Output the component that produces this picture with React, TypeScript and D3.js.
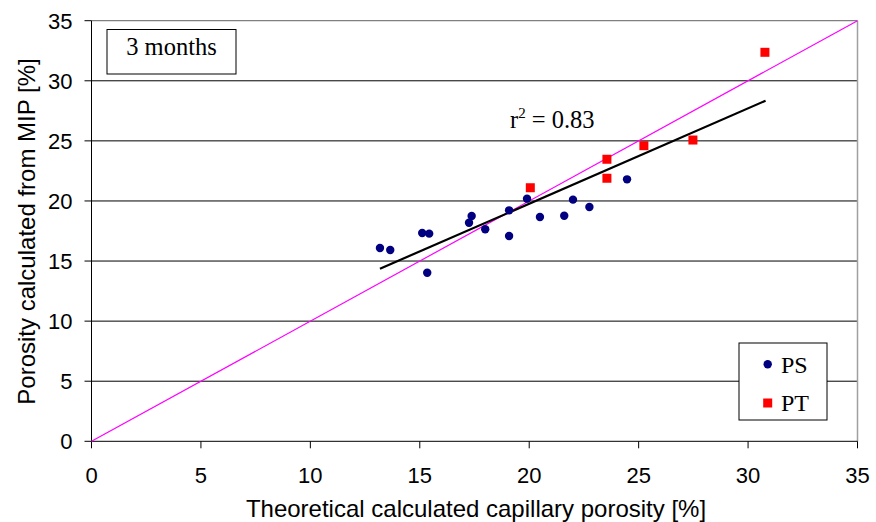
import React from "react";
import * as d3 from "d3";

const psX = [13.18, 13.65, 15.11, 15.43, 15.34, 17.25, 17.37, 17.99, 19.08, 19.08, 19.9, 20.49, 21.6, 22.0, 22.75, 24.47];
const psY = [16.09, 15.92, 17.33, 17.28, 14.03, 18.19, 18.75, 17.64, 19.22, 17.08, 20.19, 18.67, 18.77, 20.11, 19.5, 21.8];
const ptX = [20.05, 23.55, 23.55, 25.24, 27.48, 30.77];
const ptY = [21.1, 23.47, 21.89, 24.6, 25.07, 32.37];
const trendX = [13.18, 30.8];
const trendY = [14.36, 28.34];
const ticks = [0, 5, 10, 15, 20, 25, 30, 35];

const W = 876, H = 522;
const L = 91.5, R = 857.5, T = 20.7, B = 441.3;

export default function App() {
  const x = d3.scaleLinear().domain([0, 35]).range([L, R]);
  const y = d3.scaleLinear().domain([0, 35]).range([B, T]);
  const line = d3.line<[number, number]>().x(d => x(d[0])).y(d => y(d[1]));
  const sans = "Liberation Sans, Arial, sans-serif";
  const serif = "Liberation Serif, Times New Roman, serif";
  return (
    <svg width={W} height={H} style={{ position: "absolute", left: 0, top: 0, background: "#fff" }}>
      <rect x={0} y={0} width={W} height={H} fill="#fff" />
      {ticks.filter(t => t > 0 && t < 35).map(t => (
        <line key={"g" + t} x1={L} x2={R} y1={y(t)} y2={y(t)} stroke="#000" strokeWidth={1} />
      ))}
      <line x1={L} x2={R} y1={y(35)} y2={y(35)} stroke="#808080" strokeWidth={1.2} />
      <line x1={R} x2={R} y1={T} y2={B} stroke="#a0a0a0" strokeWidth={1.5} />
      <line x1={L} x2={L} y1={T} y2={B} stroke="#000" strokeWidth={1} />
      <line x1={L} x2={R} y1={B} y2={B} stroke="#000" strokeWidth={1} />
      {ticks.map(t => (
        <g key={"t" + t}>
          <line x1={L - 7} x2={L} y1={y(t)} y2={y(t)} stroke="#000" />
          <line x1={x(t)} x2={x(t)} y1={B} y2={B + 7} stroke="#000" />
          <text x={L - 19} y={y(t) + 8} textAnchor="end" fontFamily={sans} fontSize={22}>{t}</text>
          <text x={x(t)} y={B + 42} textAnchor="middle" fontFamily={sans} fontSize={22}>{t}</text>
        </g>
      ))}
      <path d={line([[0, 0], [35, 35]])!} stroke="#ff00ff" strokeWidth={1.2} fill="none" />
      <path d={line(trendX.map((v, i) => [v, trendY[i]] as [number, number]))!} stroke="#000" strokeWidth={2.2} fill="none" />
      {psX.map((v, i) => (
        <circle key={"ps" + i} cx={x(v)} cy={y(psY[i])} r={4.2} fill="#000080" />
      ))}
      {ptX.map((v, i) => (
        <rect key={"pt" + i} x={x(v) - 4.5} y={y(ptY[i]) - 4.5} width={9} height={9} fill="#ff0000" />
      ))}
      <text x={510} y={128} fontFamily={serif} fontSize={24.5}>r<tspan dy={-10} fontSize={15}>2</tspan><tspan dy={10}> = 0.83</tspan></text>
      <rect x={107} y={29.5} width={129} height={44.5} fill="#fff" stroke="#000" strokeWidth={1} />
      <text x={171.5} y={55} textAnchor="middle" fontFamily={serif} fontSize={24.5}>3 months</text>
      <rect x={739} y={343} width={88} height={77} fill="#fff" stroke="#000" strokeWidth={1} />
      <circle cx={767.7} cy={364.3} r={4.2} fill="#000080" />
      <text x={781} y={373} fontFamily={serif} fontSize={24}>PS</text>
      <rect x={763.2} y={398.5} width={9} height={9} fill="#ff0000" />
      <text x={781} y={411} fontFamily={serif} fontSize={24}>PT</text>
      <text x={476} y={517} textAnchor="middle" fontFamily={sans} fontSize={24}>Theoretical calculated capillary porosity [%]</text>
      <text transform={`translate(35,231.5) rotate(-90)`} textAnchor="middle" fontFamily={sans} fontSize={24}>Porosity calculated from MIP [%]</text>
    </svg>
  );
}
